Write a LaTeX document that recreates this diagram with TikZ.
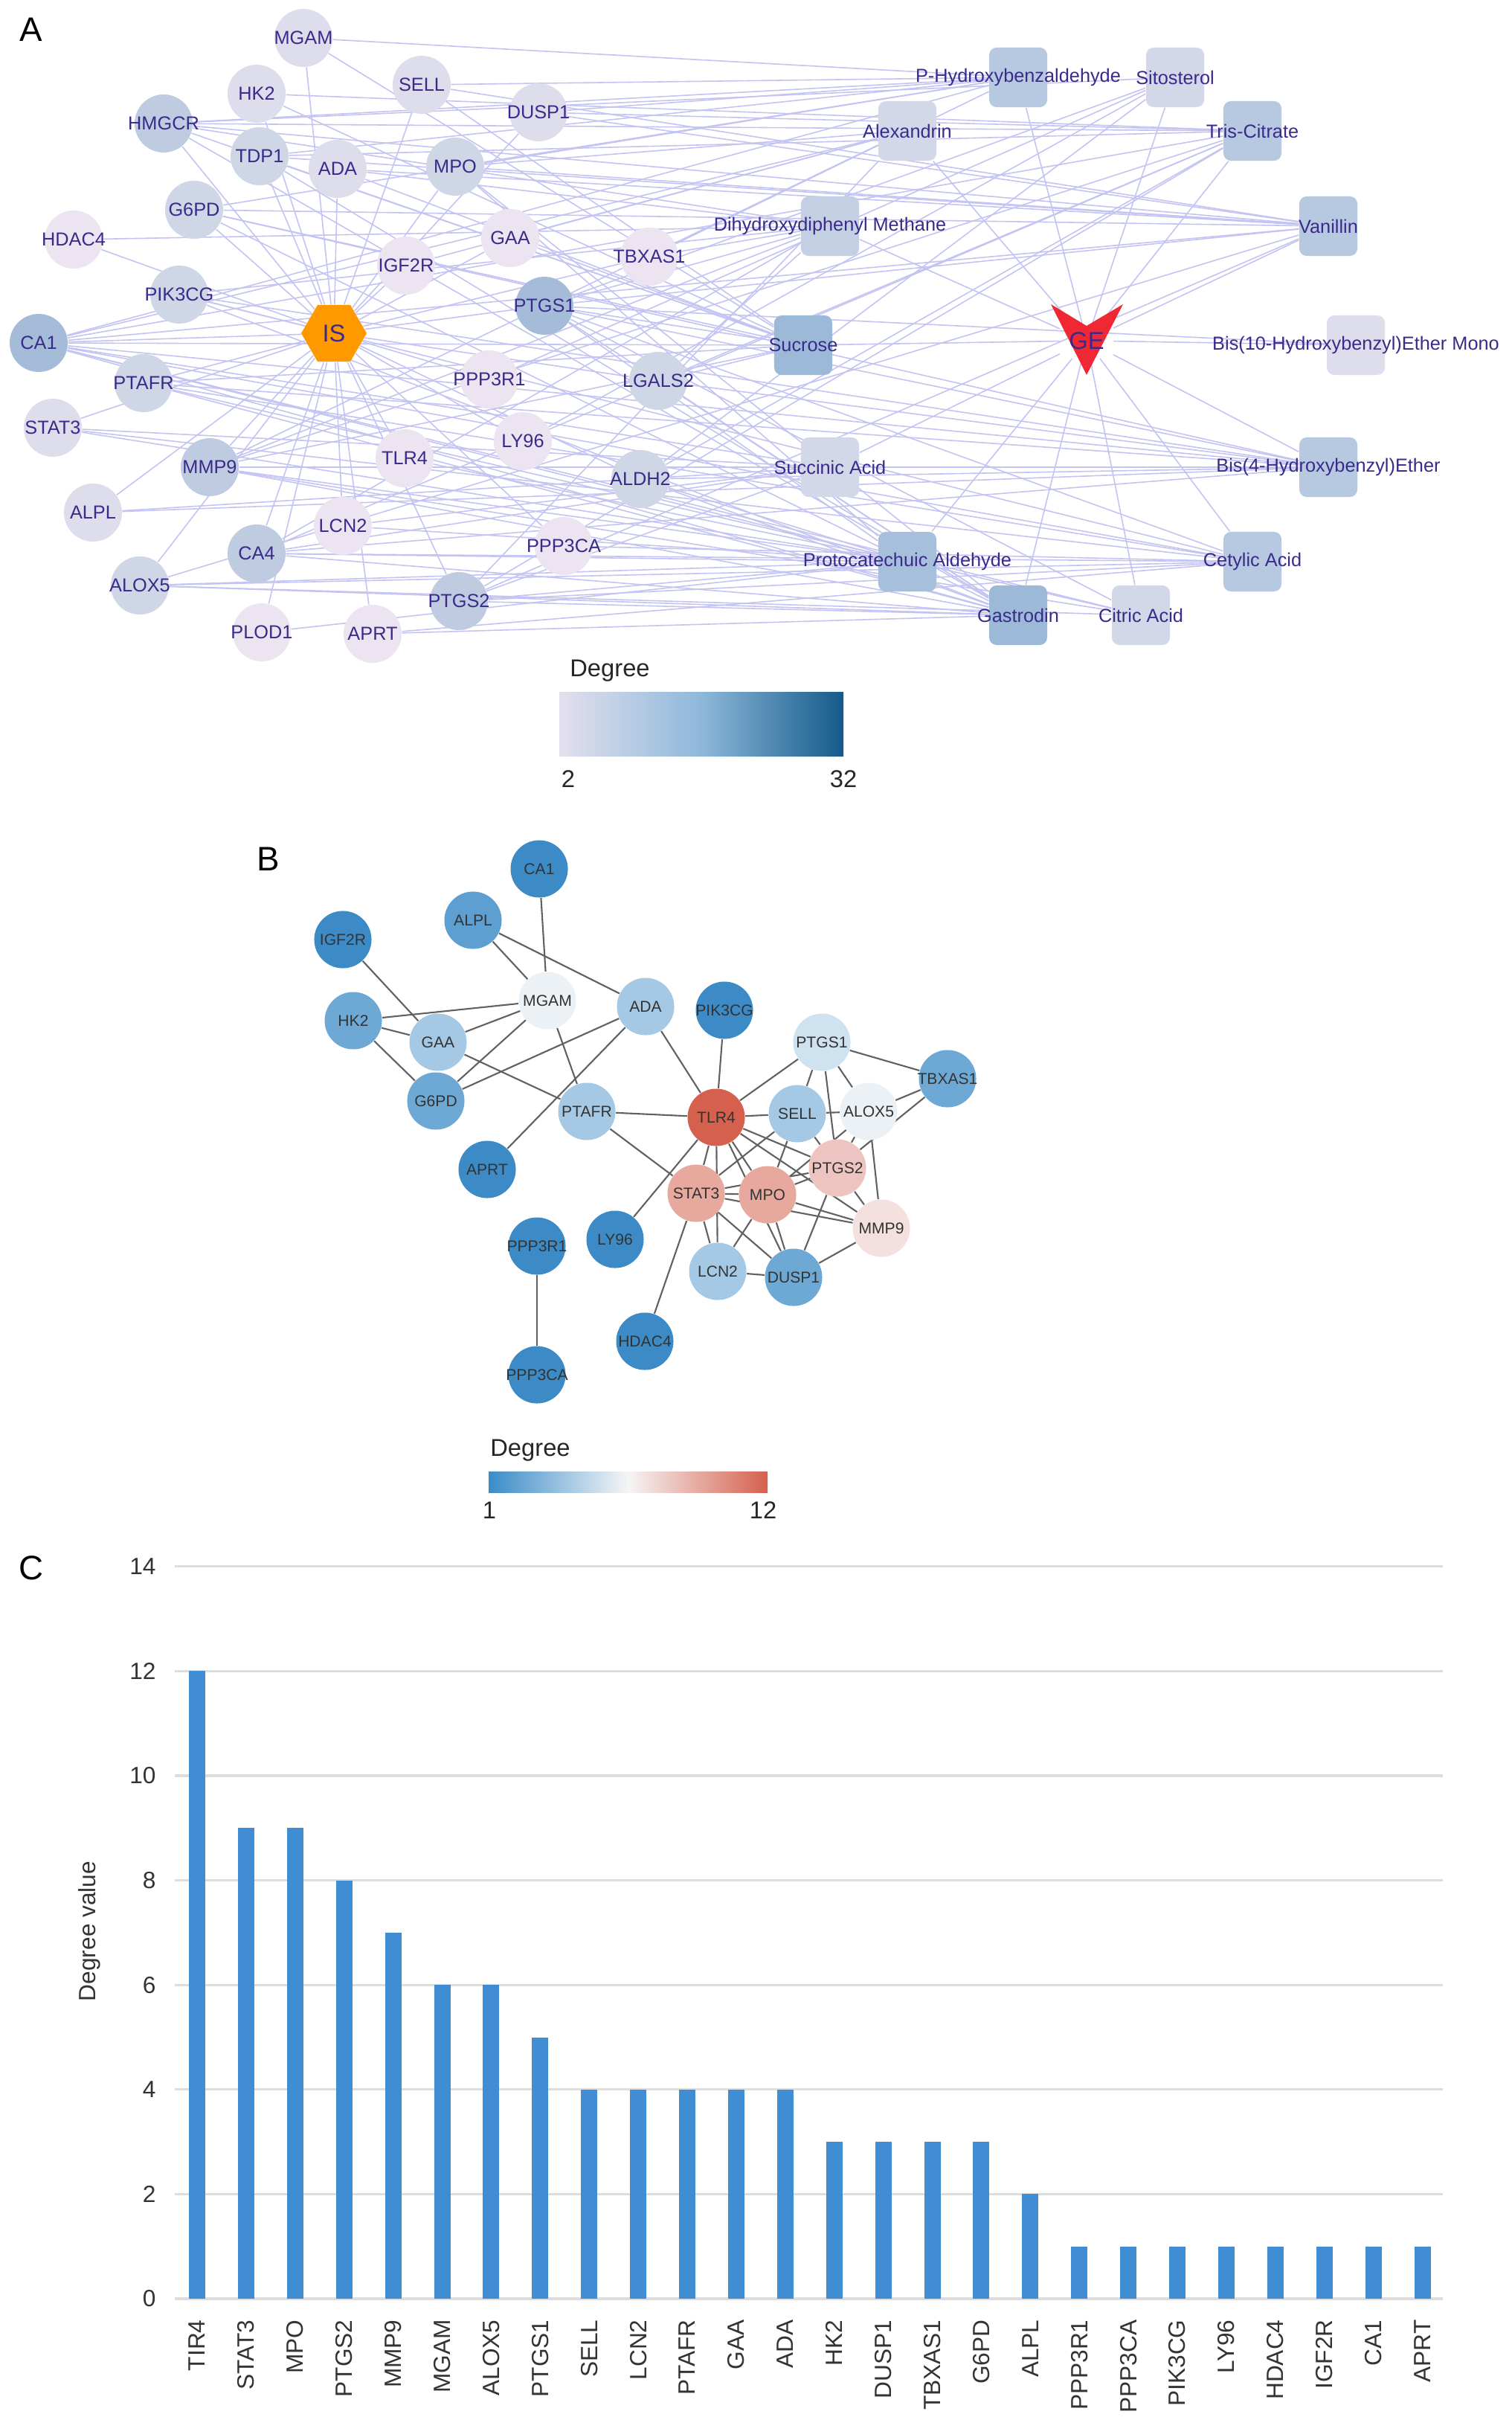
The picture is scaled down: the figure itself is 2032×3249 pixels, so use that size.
\documentclass[tikz,border=0pt]{standalone}
\usepackage{fontspec}
\setmainfont{Liberation Sans}
\usetikzlibrary{shapes.geometric,backgrounds}

% panel A colours
\definecolor{labink}{RGB}{58,42,140}
\definecolor{netedge}{RGB}{196,196,242}
\definecolor{hubor}{RGB}{255,153,0}
\definecolor{gered}{RGB}{240,40,52}
\definecolor{aA}{RGB}{236,228,240}
\definecolor{aB}{RGB}{221,221,235}
\definecolor{aC}{RGB}{207,214,230}
\definecolor{aD}{RGB}{190,203,224}
\definecolor{aE}{RGB}{164,188,216}
\definecolor{cA}{RGB}{222,221,236}
\definecolor{cB}{RGB}{211,216,232}
\definecolor{cC}{RGB}{195,208,227}
\definecolor{cD}{RGB}{182,201,224}
\definecolor{cE}{RGB}{166,192,219}
\definecolor{cF}{RGB}{156,186,216}
\definecolor{lgA1}{RGB}{227,224,238}
\definecolor{lgA2}{RGB}{141,184,218}
\definecolor{lgA3}{RGB}{20,90,138}
% panel B colours
\definecolor{bA}{RGB}{61,139,198}
\definecolor{bB}{RGB}{93,159,208}
\definecolor{bC}{RGB}{110,168,213}
\definecolor{bD}{RGB}{165,201,228}
\definecolor{bE}{RGB}{207,226,240}
\definecolor{bF}{RGB}{236,241,246}
\definecolor{bG}{RGB}{243,224,223}
\definecolor{bH}{RGB}{237,196,191}
\definecolor{bI}{RGB}{231,168,158}
\definecolor{bJ}{RGB}{214,96,78}
\definecolor{lgB1}{RGB}{58,140,200}
\definecolor{lgB2}{RGB}{245,245,245}
\definecolor{lgB3}{RGB}{214,96,77}
% panel C colours
\definecolor{barblue}{RGB}{64,141,212}
\definecolor{gridgray}{RGB}{221,221,221}

\begin{document}
\begin{tikzpicture}[x=0.01cm, y=-0.01cm,
    gene/.style={circle, inner sep=0pt, minimum size=7.8mm, fill=#1},
    drug/.style={rectangle, rounded corners=1mm, inner sep=0pt, minimum width=7.8mm, minimum height=8mm, fill=#1},
    atext/.style={text=labink, inner sep=0pt, font=\fontsize{7.2}{8}\selectfont},
    hubtext/.style={text=labink, font=\fontsize{9.3}{11}\selectfont},
    aedge/.style={draw=netedge, line width=0.45pt},
    bnode/.style={circle, inner sep=0pt, minimum size=7.7mm, fill=#1},
    btext/.style={text=black!80, inner sep=0pt, font=\fontsize{6}{7}\selectfont},
    bedge/.style={draw=black!62, line width=0.6pt},
    panel/.style={font=\fontsize{13}{15}\selectfont},
    lgd/.style={font=\fontsize{9.3}{11}\selectfont, text=black!85},
    ticklab/.style={font=\fontsize{9}{11}\selectfont, text=black!80},
    gridln/.style={draw=gridgray, line width=0.9pt},
]
    \useasboundingbox (0,0) rectangle (2032,3249);

    % Panel letters
    \node[panel] (pA) at (42,40) {A};
    \node[panel] (pB) at (361,1155) {B};
    \node[panel] (pC) at (42,2108) {C};

    % ---------- A: targets ----------
    \foreach \n/\x/\y/\c in {MGAM/408/51/aB, HK2/345/126/aB, SELL/567/114/aB,
        DUSP1/724/151/aB, HMGCR/220/166/aD, TDP1/349/210/aC, ADA/454/227/aB,
        MPO/612/224/aC, G6PD/261/282/aC, HDAC4/99/322/aA, GAA/686/320/aA,
        IGF2R/546/357/aA, TBXAS1/873/345/aA, PIK3CG/241/396/aC, PTGS1/732/411/aE,
        CA1/52/461/aE, PTAFR/193/515/aC, PPP3R1/658/510/aA, LGALS2/885/512/aC,
        STAT3/71/575/aB, LY96/703/593/aA, TLR4/544/616/aA, MMP9/282/628/aD,
        ALDH2/861/644/aC, ALPL/125/689/aB, LCN2/461/707/aA, CA4/345/744/aD,
        PPP3CA/758/734/aA, ALOX5/188/787/aC, PTGS2/617/808/aD, PLOD1/352/850/aA,
        APRT/501/852/aA}
        \node[gene=\c, label={[atext]center:\n}] (a\n) at (\x,\y) {};

    % ---------- A: compounds ----------
    \foreach \k/\t/\x/\y/\c in {phb/P-Hydroxybenzaldehyde/1369/104/cD,
        sit/Sitosterol/1580/104/cB, alx/Alexandrin/1220/176/cB,
        tri/Tris-Citrate/1684/176/cD, dhm/Dihydroxydiphenyl Methane/1116/304/cC,
        van/Vanillin/1786/304/cD, suc/Sucrose/1080/464/cF,
        bxm/Bis(10-Hydroxybenzyl)Ether Mono/1823/464/cA,
        sua/Succinic Acid/1116/628/cB, bhe/Bis(4-Hydroxybenzyl)Ether/1786/628/cD,
        pca/Protocatechuic Aldehyde/1220/755/cE, cet/Cetylic Acid/1684/755/cD,
        gas/Gastrodin/1369/827/cF, cit/Citric Acid/1534/827/cB}
        \node[drug=\c, label={[atext]center:\t}] (c\k) at (\x,\y) {};

    % hubs
    \node[regular polygon, regular polygon sides=6, minimum size=8.8mm, inner sep=0pt,
        fill=hubor, hubtext] (IS) at (449,448) {IS};
    \fill[gered] (1413,409) -- (1461,438) -- (1510,409) -- (1461,504) -- cycle;
    \node[hubtext] (GE) at (1461,458) {GE};

    % legend A
    \node[lgd] (degA) at (820,902) {Degree};
    \shade[left color=lgA1, right color=lgA3, middle color=lgA2] (752,930) rectangle (1134,1016);
    \node[lgd] (loA) at (764,1047) {2};
    \node[lgd] (hiA) at (1134,1047) {32};

    % ---------- B: PPI network ----------
    \foreach \n/\x/\y/\c in {CA1/725/1168/bA, ALPL/636/1237/bB, IGF2R/461/1263/bA,
        MGAM/736/1345/bF, ADA/868/1353/bD, HK2/475/1372/bC, GAA/589/1401/bD,
        G6PD/586/1480/bC, PTAFR/789/1494/bD, APRT/655/1572/bA, PIK3CG/974/1358/bA,
        PTGS1/1105/1401/bE, TBXAS1/1274/1450/bC, TLR4/963/1502/bJ, SELL/1072/1497/bD,
        ALOX5/1168/1494/bF, PTGS2/1126/1570/bH, STAT3/936/1604/bI, MPO/1032/1606/bI,
        MMP9/1185/1651/bG, LCN2/965/1709/bD, DUSP1/1067/1717/bC, LY96/827/1666/bA,
        HDAC4/867/1803/bA, PPP3R1/722/1675/bA, PPP3CA/722/1848/bA}
        \node[bnode=\c, label={[btext]center:\n}] (b\n) at (\x,\y) {};

    % legend B
    \node[lgd] (degB) at (713,1950) {Degree};
    \shade[left color=lgB1, right color=lgB3, middle color=lgB2] (657,1978) rectangle (1032,2006);
    \node[lgd] (loB) at (658,2030) {1};
    \node[lgd] (hiB) at (1026,2030) {12};

    % ---------- C: degree bars ----------
    \foreach \v in {0,2,...,14} {
        \draw[gridln] (235,{3090-70.3*\v}) -- (1940,{3090-70.3*\v});
        \node[ticklab, anchor=east] (t\v) at (222,{3090-70.3*\v}) {\v};
    }
    \node[ticklab, rotate=90] (ylab) at (120,2596) {Degree value};
    \foreach \g/\v [count=\i from 0] in {TIR4/12, STAT3/9, MPO/9, PTGS2/8, MMP9/7,
        MGAM/6, ALOX5/6, PTGS1/5, SELL/4, LCN2/4, PTAFR/4, GAA/4, ADA/4, HK2/3,
        DUSP1/3, TBXAS1/3, G6PD/3, ALPL/2, PPP3R1/1, PPP3CA/1, PIK3CG/1, LY96/1,
        HDAC4/1, IGF2R/1, CA1/1, APRT/1} {
        \fill[barblue] ({265+65.9*\i-11},3090) rectangle ({265+65.9*\i+11},{3090-70.3*\v});
        \node[ticklab, rotate=90, anchor=east] (x\i) at ({265+65.9*\i},3106) {\g};
    }

    % ---------- connectors ----------
    \begin{scope}[on background layer]
        \fill[white] (0,0) rectangle (2032,3249);
        \foreach \g in {MGAM,HK2,SELL,DUSP1,HMGCR,TDP1,ADA,MPO,G6PD,HDAC4,GAA,IGF2R,
            TBXAS1,PIK3CG,PTGS1,CA1,PTAFR,PPP3R1,LGALS2,STAT3,LY96,TLR4,MMP9,ALDH2,
            ALPL,LCN2,CA4,PPP3CA,ALOX5,PTGS2,PLOD1,APRT}
            \draw[aedge] (IS) -- (a\g);
        \foreach \d in {phb,sit,alx,tri,dhm,van,suc,bxm,sua,bhe,pca,cet,gas,cit}
            \draw[aedge] (GE) -- (c\d);
        \foreach \d/\gl in {
            gas/{CA1,PTGS1,MMP9,HMGCR,CA4,PTGS2,G6PD,PIK3CG,TDP1,MPO,ALOX5,PTAFR,LGALS2,ALDH2,APRT},
            suc/{CA1,PTGS1,HMGCR,MGAM,GAA,HK2,G6PD,TDP1,LGALS2,SELL,ADA,PTAFR,MMP9},
            pca/{CA1,PTGS1,MMP9,CA4,PTGS2,MPO,ALOX5,ALDH2,STAT3,TLR4,LCN2,PLOD1},
            van/{CA1,PTGS1,HMGCR,PTGS2,MPO,ALOX5,TDP1,DUSP1,SELL,ADA,G6PD},
            bhe/{CA1,PTGS1,CA4,MMP9,PIK3CG,PTAFR,G6PD,LGALS2,ALDH2,ALPL},
            tri/{CA1,HMGCR,CA4,MMP9,TDP1,DUSP1,ALDH2,PTGS2,HK2,LGALS2},
            cet/{CA1,PTGS1,PTGS2,CA4,ALOX5,PTAFR,PIK3CG,STAT3,APRT,PPP3CA},
            phb/{CA1,HMGCR,MPO,G6PD,TDP1,MGAM,SELL,DUSP1,TBXAS1},
            dhm/{PTGS1,HMGCR,MMP9,CA4,PIK3CG,TBXAS1,LGALS2,HDAC4,ADA},
            alx/{CA1,PTGS2,MPO,MMP9,GAA,IGF2R},
            sit/{PTGS1,HMGCR,PPP3R1,LY96,ALDH2},
            sua/{CA1,CA4,PTGS2,STAT3,ALPL,LCN2},
            cit/{CA1,PTGS1,ALOX5,MMP9,PTAFR},
            bxm/{PTGS1}}
            {\foreach \g in \gl {\draw[aedge] (c\d) -- (a\g);}}
        \foreach \u/\v in {CA1/MGAM, ALPL/MGAM, ALPL/ADA, IGF2R/GAA, HK2/MGAM,
            HK2/GAA, HK2/G6PD, GAA/MGAM, G6PD/MGAM, G6PD/ADA, GAA/PTAFR, MGAM/PTAFR,
            APRT/ADA, PTAFR/TLR4, PTAFR/STAT3, ADA/TLR4, PIK3CG/TLR4, LY96/TLR4,
            HDAC4/STAT3, PPP3R1/PPP3CA, TLR4/PTGS1, TLR4/SELL, TLR4/STAT3, TLR4/MPO,
            TLR4/PTGS2, TLR4/MMP9, TLR4/LCN2, TLR4/DUSP1, PTGS1/SELL, PTGS1/TBXAS1,
            PTGS1/ALOX5, PTGS1/PTGS2, SELL/ALOX5, SELL/STAT3, SELL/MPO, SELL/PTGS2,
            ALOX5/TBXAS1, TBXAS1/PTGS2, ALOX5/PTGS2, ALOX5/MMP9, ALOX5/MPO,
            STAT3/MPO, STAT3/PTGS2, STAT3/MMP9, STAT3/LCN2, STAT3/DUSP1, MPO/PTGS2,
            MPO/MMP9, MPO/LCN2, MPO/DUSP1, PTGS2/MMP9, PTGS2/DUSP1, MMP9/DUSP1,
            LCN2/DUSP1}
            \draw[bedge] (b\u) -- (b\v);
    \end{scope}
\end{tikzpicture}
\end{document}
